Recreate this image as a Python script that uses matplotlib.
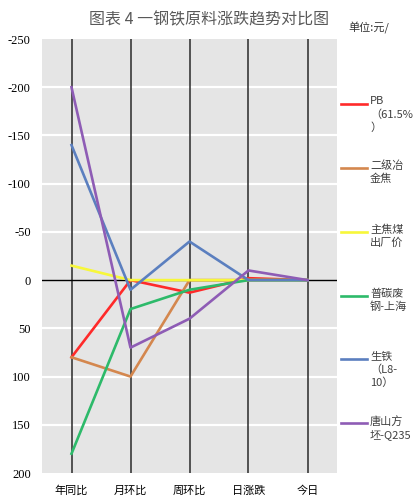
import matplotlib
matplotlib.use("Agg")
import matplotlib.pyplot as plt
from matplotlib.lines import Line2D

plt.rcParams['font.family'] = ['Noto Sans CJK SC', 'DejaVu Sans']

categories = ["年同比", "月环比", "周环比", "日涨跌", "今日"]
series_names = ["PB（61.5%）", "二级冶金焦", "主焦煤出厂价", "普碳废钢-上海", "生铁（L8-10）", "唐山方坯-Q235"]
legend_labels = ["PB\n（61.5%\n）", "二级冶\n金焦", "主焦煤\n出厂价", "普碳废\n钢-上海", "生铁\n（L8-\n10）", "唐山方\n坯-Q235"]
pb = [80, 0, 13, -2, 0]
coke = [80, 100, 0, 0, 0]
coal = [-15, 0, 0, 0, 0]
scrap = [180, 30, 10, 0, 0]
pig_iron = [-140, 10, -40, 0, 0]
billet = [-200, 70, 40, -10, 0]
values = [pb, coke, coal, scrap, pig_iron, billet]
colors = ["#ff2a2a", "#d4874e", "#f7f73a", "#2dba6a", "#5b7fbf", "#8e5cb5"]
yticks = [-250, -200, -150, -100, -50, 0, 50, 100, 150, 200]

fig = plt.figure(figsize=(4.14, 5.03), dpi=100)
ax = fig.add_axes([42/414, 1-473/503, (337-42)/414, (473-39)/503])
ax.set_facecolor("#e5e5e5")
x = list(range(len(categories)))
ax.set_xlim(-0.5, len(categories)-0.5)
ax.set_ylim(200, -250)

for yv in yticks:
    if yv != 0 and yv not in (-250, 200):
        ax.axhline(yv, color="white", lw=1.6, zorder=1)
ax.axhline(0, color="black", lw=1.0, zorder=2)
for xi in x:
    ax.axvline(xi, color="#2a2a2a", lw=1.1, zorder=1.5)

lines = []
for name, vals, c in zip(series_names, values, colors):
    ln, = ax.plot(x, vals, color=c, lw=1.9, zorder=3, label=name)
    lines.append(ln)

ax.set_xticks(x)
ax.set_xticklabels(categories, fontsize=8)
ax.set_yticks(yticks)
ax.set_yticklabels([str(v) for v in yticks], fontsize=9, family="Liberation Serif")
ax.tick_params(length=0, pad=8)
ax.tick_params(axis='x', pad=9)
for s in ax.spines.values():
    s.set_visible(False)

fig.text(209/414, 1-20/503, "图表 4 一钢铁原料涨跌趋势对比图", ha="center", va="center",
         fontsize=11.5, color="#595959", fontweight="medium")
fig.text(348/414, 1-28/503, "单位:元/", ha="left", va="center", fontsize=8, color="#333333")

leg_y = [104, 168, 232, 296, 359, 423]
for ln, lab, yy in zip(lines, legend_labels, leg_y):
    fig.add_artist(Line2D([341/414, 367/414], [1-yy/503, 1-yy/503], transform=fig.transFigure,
                          color=ln.get_color(), lw=1.9))
    fig.text(370/414, 1-(yy-7.5)/503, lab, ha="left", va="top", fontsize=8,
             color="#404040", linespacing=1.3)

fig.savefig("out.png", dpi=100)
